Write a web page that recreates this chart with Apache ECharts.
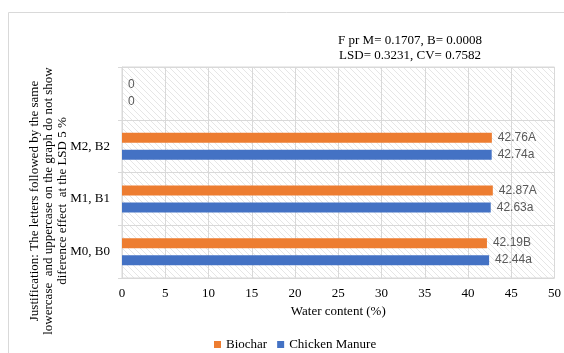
<!DOCTYPE html>
<html><head><meta charset="utf-8">
<script src="https://cdn.jsdelivr.net/npm/echarts@6/dist/echarts.min.js"></script>
<style>html,body{margin:0;padding:0;background:#fff}#c{width:564px;height:353px}</style>
</head><body><div id="c"></div>
<script>
var categories = ['M0, B0', 'M1, B1', 'M2, B2', ''];
var chickenManure = [42.44, 42.63, 42.74, 0];
var biochar = [42.19, 42.87, 42.76, 0];
var chickenLetters = ['a', 'a', 'a', ''];
var biocharLetters = ['B', 'A', 'A', ''];
var xTicks = [0, 5, 10, 15, 20, 25, 30, 35, 40, 45, 50];

var pc = document.createElement('canvas');
pc.width = 6; pc.height = 6;
var g = pc.getContext('2d');
g.fillStyle = '#ffffff'; g.fillRect(0, 0, 6, 6);
g.strokeStyle = '#e6e6e6'; g.lineWidth = 1;
g.beginPath();
g.moveTo(0, 0); g.lineTo(6, 6);
g.moveTo(-3, 3); g.lineTo(3, 9);
g.moveTo(3, -3); g.lineTo(9, 3);
g.stroke();

var serif = '"Liberation Serif", "Times New Roman", serif';
var sans = '"Liberation Sans", Arial, sans-serif';

var chart = echarts.init(document.getElementById('c'));
function lbl(letters) {
  return function (p) { return p.value === 0 ? '0' : p.value.toFixed(2) + letters[p.dataIndex]; };
}
chart.setOption({
  animation: false,
  title: {
    text: 'F pr M= 0.1707, B= 0.0008\nLSD= 0.3231, CV= 0.7582',
    left: 405, top: 28, textAlign: 'center',
    textStyle: { fontFamily: serif, fontSize: 13, fontWeight: 'normal', color: '#000', lineHeight: 15 }
  },
  legend: {
    data: ['Biochar', 'Chicken Manure'],
    left: 209, top: 333, itemWidth: 7, itemHeight: 7, itemGap: 10,
    icon: 'rect',
    textStyle: { fontFamily: serif, fontSize: 13, color: '#000' }
  },
  grid: {
    left: 122, right: 8, top: 67, bottom: 75, show: true,
    backgroundColor: { image: pc, repeat: 'repeat' },
    borderColor: '#d9d9d9', borderWidth: 1
  },
  xAxis: {
    type: 'value', min: 0, max: 50, interval: 5,
    name: 'Water content (%)', nameLocation: 'middle', nameGap: 26,
    nameTextStyle: { fontFamily: serif, fontSize: 13, color: '#000' },
    axisLine: { show: false }, axisTick: { show: false },
    axisLabel: { fontFamily: serif, fontSize: 13, color: '#000', margin: 9,
      formatter: function (v) { return xTicks.indexOf(v) >= 0 ? String(v) : ''; } },
    splitLine: { show: true, lineStyle: { color: '#d9d9d9', width: 1 } }
  },
  yAxis: {
    type: 'category', data: categories,
    axisLine: { show: true, lineStyle: { color: '#d9d9d9' } },
    axisTick: { show: true, length: 4, lineStyle: { color: '#d9d9d9' } },
    axisLabel: { fontFamily: serif, fontSize: 13, color: '#000', margin: 12 },
    splitLine: { show: true, lineStyle: { color: '#d9d9d9', width: 1 } }
  },
  series: [
    { name: 'Biochar', type: 'bar', data: biochar, barWidth: 10, barGap: '70%',
      itemStyle: { color: '#ED7D31' },
      label: { show: true, position: 'right', distance: 6, formatter: lbl(biocharLetters),
        fontFamily: sans, fontSize: 12, color: '#595959' } },
    { name: 'Chicken Manure', type: 'bar', data: chickenManure, barWidth: 10, barGap: '70%',
      itemStyle: { color: '#4472C4' },
      label: { show: true, position: 'right', distance: 6, formatter: lbl(chickenLetters),
        fontFamily: sans, fontSize: 12, color: '#595959' } }
  ],
  graphic: [
    { type: 'rect', shape: { x: 8.5, y: 12.5, width: 700, height: 500 }, silent: true,
      style: { fill: 'none', stroke: '#d9d9d9', lineWidth: 1 }, z: -10 },
    { type: 'text', x: 49, y: 201, rotation: Math.PI / 2,
      style: { text: 'Justification: The letters followed by the same\nlowercase  and uppercase on the graph do not show\ndiference effect  at the LSD 5 %',
        fontFamily: serif, fontSize: 13, fill: '#000', align: 'center', verticalAlign: 'middle', lineHeight: 14 } }
  ]
});
</script></body></html>
